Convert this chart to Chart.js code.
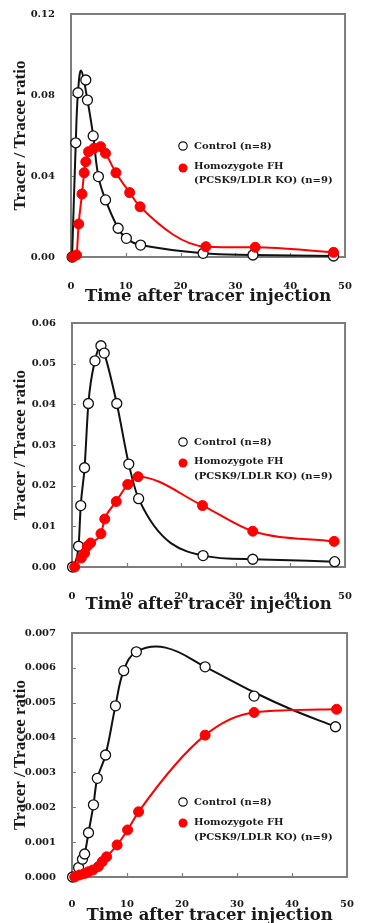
<!DOCTYPE html>
<html><head><meta charset="utf-8">
<script src="https://cdn.jsdelivr.net/npm/chart.js@4.4.0/dist/chart.umd.min.js"></script>
<style>
html,body{margin:0;padding:0;background:#fff;width:367px;height:923px;overflow:hidden}
canvas{position:absolute;left:0;display:block}
</style></head><body>
<canvas id="c1" width="367" height="307" style="top:0px"></canvas>
<canvas id="c2" width="367" height="308" style="top:307px"></canvas>
<canvas id="c3" width="367" height="308" style="top:615px"></canvas>
<script>
// ---------- texts ----------
const xTitle = "Time after tracer injection";
const yTitle = "Tracer / Tracee ratio";
const legendControl = "Control (n=8)";
const legendFH = ["Homozygote FH", "(PCSK9/LDLR KO) (n=9)"];

// ---------- shared x ticks ----------
const xTickValues = [0, 10, 20, 30, 40, 50];
const xTickLabels = ["0", "10", "20", "30", "40", "50"];

// ---------- panel 1 ----------
const p1YTickValues = [0, 0.04, 0.08, 0.12];
const p1YTickLabels = ["0.00", "0.04", "0.08", "0.12"];
const p1CtrlT = [0.2, 0.87, 1.27, 2.7, 3.0, 4.05, 5.0, 6.3, 8.6, 10.1, 12.7, 24.1, 33.2, 47.9];
const p1CtrlV = [0, 0.0564, 0.0811, 0.0874, 0.0775, 0.0598, 0.0397, 0.0282, 0.0142, 0.0092, 0.0059, 0.0018, 0.0010, 0.0005];
const p1CtrlFitT = [0.2, 0.87, 1.27, 1.85, 3.0, 4.05, 5.0, 6.3, 8.6, 10.1, 12.7, 24.1, 33.2, 47.9];
const p1CtrlFitV = [0, 0.0564, 0.0811, 0.0920, 0.0775, 0.0598, 0.0397, 0.0282, 0.0142, 0.0092, 0.0059, 0.0018, 0.0010, 0.0005];
const p1FhT = [0.3, 1.0, 1.4, 2.0, 2.4, 2.7, 3.2, 4.2, 5.4, 6.3, 8.2, 10.7, 12.6, 24.6, 33.6, 47.9];
const p1FhV = [0, 0.0010, 0.0163, 0.0311, 0.0416, 0.0470, 0.0520, 0.0537, 0.0545, 0.0512, 0.0416, 0.0318, 0.0248, 0.0051, 0.0048, 0.0023];

// ---------- panel 2 ----------
const p2YTickValues = [0, 0.01, 0.02, 0.03, 0.04, 0.05, 0.06];
const p2YTickLabels = ["0.00", "0.01", "0.02", "0.03", "0.04", "0.05", "0.06"];
const p2CtrlT = [0.1, 1.2, 1.6, 2.3, 3.0, 4.2, 5.3, 5.9, 8.2, 10.4, 12.2, 24.0, 33.1, 48.1];
const p2CtrlV = [0, 0.0051, 0.0151, 0.0244, 0.0402, 0.0507, 0.0544, 0.0526, 0.0402, 0.0253, 0.0168, 0.0028, 0.0019, 0.0013];
const p2FhT = [0.5, 1.7, 2.3, 2.8, 3.4, 5.3, 6.0, 8.1, 10.2, 12.1, 23.9, 33.1, 48.0];
const p2FhV = [0, 0.0022, 0.0034, 0.0051, 0.0059, 0.0082, 0.0118, 0.0161, 0.0203, 0.0222, 0.0151, 0.0088, 0.0063];

// ---------- panel 3 ----------
const p3YTickValues = [0, 0.001, 0.002, 0.003, 0.004, 0.005, 0.006, 0.007];
const p3YTickLabels = ["0.000", "0.001", "0.002", "0.003", "0.004", "0.005", "0.006", "0.007"];
const p3CtrlT = [0.1, 1.2, 1.9, 2.3, 3.0, 3.9, 4.6, 6.1, 7.9, 9.4, 11.7, 24.2, 33.1, 47.9];
const p3CtrlV = [0, 0.00027, 0.00051, 0.00066, 0.00127, 0.00207, 0.00283, 0.00350, 0.00491, 0.00592, 0.00646, 0.00603, 0.00519, 0.00431];
const p3CtrlFitT = [0.1, 1.2, 1.9, 2.3, 3.0, 3.9, 4.6, 6.1, 7.9, 9.4, 11.7, 17.0, 24.2, 33.1, 39.7, 47.9];
const p3CtrlFitV = [0, 0.00027, 0.00051, 0.00066, 0.00127, 0.00207, 0.00283, 0.00350, 0.00491, 0.00592, 0.00646, 0.00658, 0.00603, 0.00530, 0.00482, 0.00431];
const p3FhT = [0.5, 1.4, 2.3, 3.0, 3.8, 4.8, 5.5, 6.3, 8.2, 10.1, 12.1, 24.2, 33.1, 48.1];
const p3FhV = [0, 0.00006, 0.00010, 0.00015, 0.00020, 0.00030, 0.00044, 0.00058, 0.00092, 0.00135, 0.00187, 0.00407, 0.00472, 0.00481];

// ---------- helpers ----------
const zip = (t, v) => t.map((x, i) => ({x: x, y: v[i]}));
const SERIF = "'DejaVu Serif', serif";
const TXT = '#1a1a1a';
const RED = '#ff0000';

function makeChart(id, H, L, yTickValues, yTickLabels, ctrl, ctrlFit, fh, leg) {
  const framePlugin = {
    id: 'frame',
    beforeDatasetsDraw(chart) {
      const {ctx, chartArea: a, scales} = chart;
      ctx.save();
      ctx.strokeStyle = '#7d7d7d';
      ctx.lineWidth = 2;
      ctx.strokeRect(a.left, a.top, a.right - a.left, a.bottom - a.top);
      ctx.lineWidth = 1.2;
      ctx.beginPath();
      xTickValues.slice(1, -1).forEach(v => {
        const px = Math.round(scales.x.getPixelForValue(v)) + 0.5;
        ctx.moveTo(px, a.bottom); ctx.lineTo(px, a.bottom - 4);
      });
      yTickValues.slice(1, -1).forEach(v => {
        const py = Math.round(scales.y.getPixelForValue(v)) + 0.5;
        ctx.moveTo(a.left, py); ctx.lineTo(a.left + 4, py);
      });
      ctx.stroke();
      ctx.restore();
    }
  };
  const legendPlugin = {
    id: 'customLegend',
    afterDatasetsDraw(chart) {
      const ctx = chart.ctx;
      ctx.save();
      ctx.lineWidth = 1.2;
      ctx.strokeStyle = '#111';
      ctx.fillStyle = '#fff';
      ctx.beginPath(); ctx.arc(leg.mx, leg.y1, 4.2, 0, Math.PI * 2); ctx.fill(); ctx.stroke();
      ctx.fillStyle = RED;
      ctx.beginPath(); ctx.arc(leg.mx, leg.y2, 4.5, 0, Math.PI * 2); ctx.fill();
      ctx.fillStyle = TXT;
      ctx.font = "bold 10px " + SERIF;
      ctx.textBaseline = 'middle';
      ctx.textAlign = 'left';
      ctx.fillText(legendControl, leg.tx, leg.y1);
      ctx.fillText(legendFH[0], leg.tx, leg.t2);
      ctx.fillText(legendFH[1], leg.tx, leg.t3);
      ctx.restore();
    }
  };
  return new Chart(document.getElementById(id), {
    type: 'line',
    data: {
      datasets: [
        {data: zip(fh[0], fh[1]), borderColor: RED, backgroundColor: RED, borderWidth: 2,
         pointRadius: 5, pointBorderWidth: 1, pointBorderColor: RED, pointBackgroundColor: RED,
         cubicInterpolationMode: 'monotone', clip: false, order: 1},
        {data: zip(ctrl[0], ctrl[1]), showLine: false, pointRadius: 5, pointBorderWidth: 1.3,
         pointBorderColor: '#111', pointBackgroundColor: '#fff', clip: false, order: 2},
        {data: zip(ctrlFit[0], ctrlFit[1]), borderColor: '#111', borderWidth: 2, pointRadius: 0,
         tension: 0.4, cubicInterpolationMode: L.ctrlMode, clip: false, order: 3}
      ]
    },
    options: {
      responsive: false,
      animation: false,
      devicePixelRatio: 1,
      layout: {padding: {top: L.top, right: 367 - L.right, left: 0, bottom: 0}},
      plugins: {legend: {display: false}, tooltip: {enabled: false}},
      scales: {
        x: {
          type: 'linear', min: 0, max: 50,
          afterBuildTicks: s => { s.ticks = xTickValues.map(v => ({value: v})); },
          afterFit: s => { s.height = H - L.bottom; },
          grid: {display: false}, border: {display: false},
          ticks: {padding: L.xtp, color: TXT, maxRotation: 0, autoSkip: false,
                  font: {family: SERIF, weight: 'bold', size: 10},
                  callback: (v, i) => xTickLabels[i]},
          title: {display: true, text: xTitle, color: TXT,
                  font: {family: SERIF, weight: 'bold', size: 16.5, lineHeight: 1.2},
                  padding: {top: 0, bottom: L.xtitle}}
        },
        y: {
          type: 'linear', min: yTickValues[0], max: yTickValues[yTickValues.length - 1],
          afterBuildTicks: s => { s.ticks = yTickValues.map(v => ({value: v})); },
          afterFit: s => { s.width = L.left; },
          grid: {display: false}, border: {display: false},
          ticks: {padding: 8, color: TXT, autoSkip: false,
                  font: {family: SERIF, weight: 'bold', size: 10},
                  callback: (v, i) => yTickLabels[i]},
          title: {display: true, text: yTitle, color: TXT,
                  font: {family: "'Liberation Serif', serif", weight: 'bold', size: 17, lineHeight: 1.2},
                  padding: {top: 10, bottom: 0}}
        }
      }
    },
    plugins: [framePlugin, legendPlugin]
  });
}

makeChart('c1', 307, {top: 14, bottom: 257, left: 71, right: 359, xtp: 15, xtitle: 0, ctrlMode: 'default'},
  p1YTickValues, p1YTickLabels, [p1CtrlT, p1CtrlV], [p1CtrlFitT, p1CtrlFitV], [p1FhT, p1FhV],
  {mx: 183, tx: 194, y1: 146, y2: 168, t2: 166, t3: 180});

makeChart('c2', 308, {top: 16, bottom: 260, left: 72, right: 358, xtp: 15, xtitle: 0, ctrlMode: 'monotone'},
  p2YTickValues, p2YTickLabels, [p2CtrlT, p2CtrlV], [p2CtrlT, p2CtrlV], [p2FhT, p2FhV],
  {mx: 183, tx: 194, y1: 135, y2: 156, t2: 154, t3: 169});

makeChart('c3', 308, {top: 18, bottom: 262, left: 72, right: 358, xtp: 13, xtitle: -3, ctrlMode: 'default'},
  p3YTickValues, p3YTickLabels, [p3CtrlT, p3CtrlV], [p3CtrlFitT, p3CtrlFitV], [p3FhT, p3FhV],
  {mx: 183, tx: 194, y1: 187, y2: 208, t2: 207, t3: 222});
</script>
</body></html>
